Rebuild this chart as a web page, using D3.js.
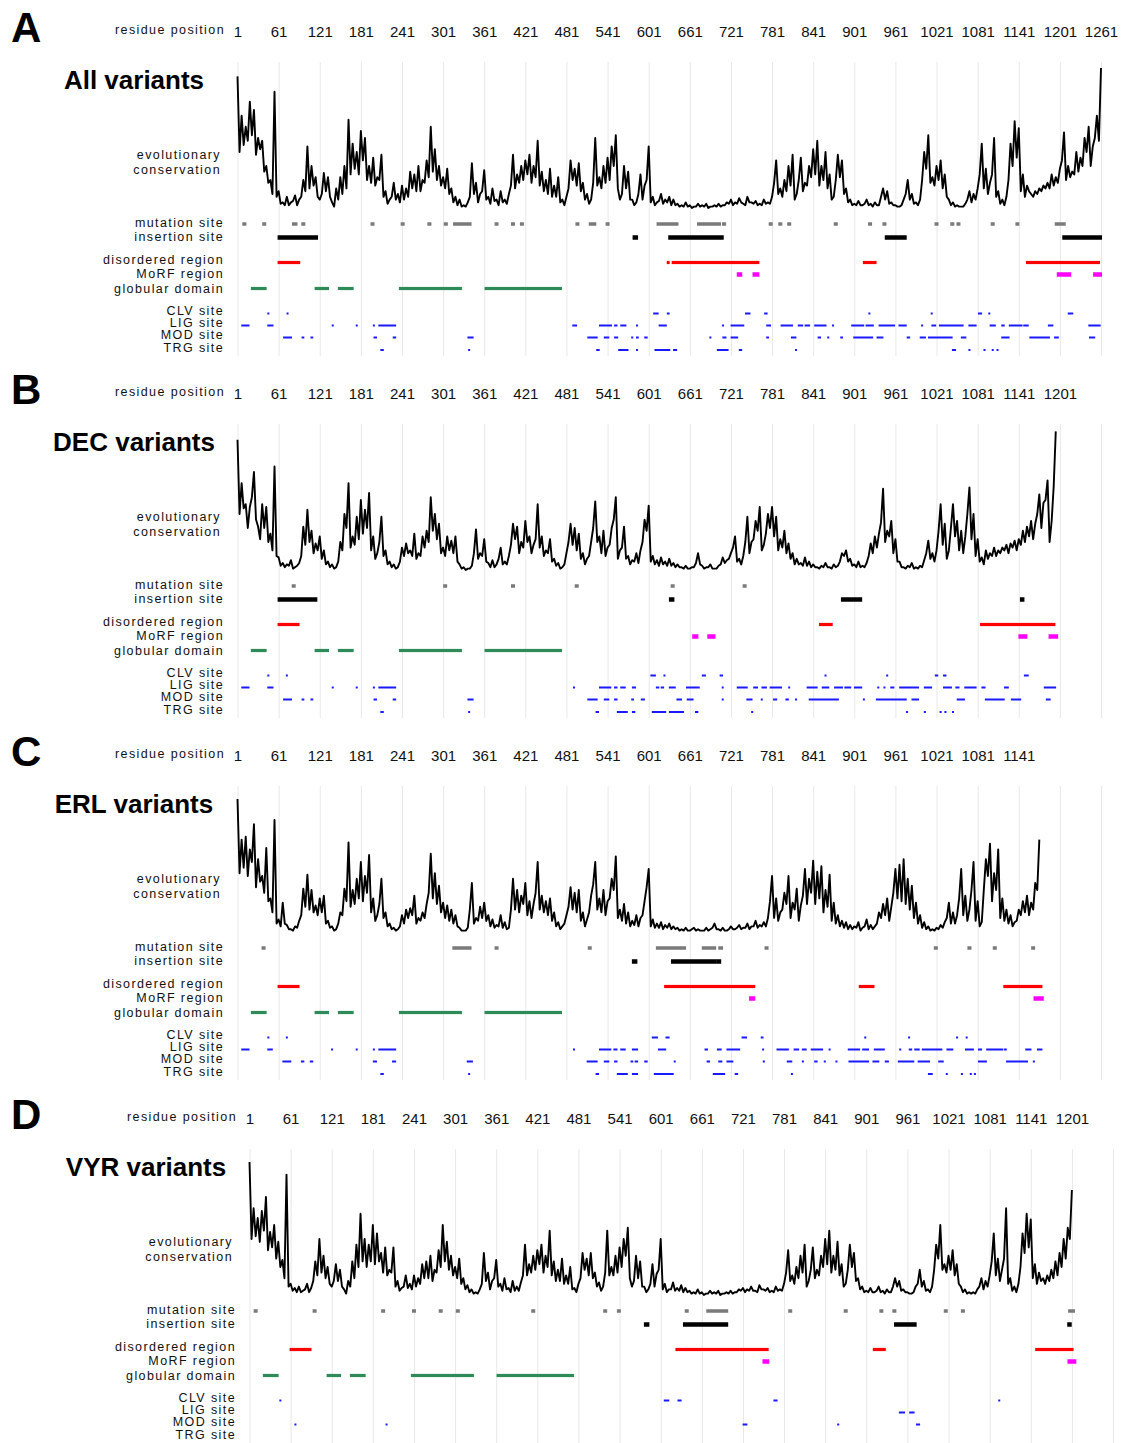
<!DOCTYPE html>
<html>
<head>
<meta charset="utf-8">
<script src="https://cdn.jsdelivr.net/npm/d3@7"></script>
<style>
  body { margin: 0; background: #fff; }
  svg text { font-family: 'Liberation Sans', Arial, sans-serif; }
  .lbl { font-size: 12.5px; letter-spacing: 1.4px; fill: #111; }
</style>
</head>
<body>
<div id="chart"></div>
<script>
// residue ticks shared by every panel (gridlines run to 1261 everywhere)
const residueTicks = [1, 61, 121, 181, 241, 301, 361, 421, 481, 541, 601, 661, 721, 781, 841, 901, 961, 1021, 1081, 1141, 1201, 1261];
const trackNames = ['mutation site', 'insertion site', 'disordered region', 'MoRF region', 'globular domain', 'CLV site', 'LIG site', 'MOD site', 'TRG site'];
const panelLetters = ['A', 'B', 'C', 'D'];
const panelTitles = ['All variants', 'DEC variants', 'ERL variants', 'VYR variants'];
const lastTicks = [1261, 1201, 1141, 1201];

// conservation score (0-100) read every 3 residues starting at residue 1
const consStep = 3;
const consA = [94,40,66,45,58,48,76,52,70,38,50,42,48,26,30,18,20,10,83,8,12,3,4,2,8,2,4,5,9,2,6,8,20,12,44,14,30,16,22,8,6,10,25,12,22,8,4,1,14,6,22,10,30,14,63,24,46,28,40,24,55,34,50,20,30,18,36,16,22,20,38,8,12,3,6,8,18,6,10,4,16,6,14,8,26,14,24,12,30,12,20,18,34,22,58,26,42,20,30,16,22,14,28,10,14,4,8,2,6,1,2,1,4,8,32,10,18,4,10,12,27,6,8,3,14,5,6,2,12,4,6,3,10,16,38,14,24,18,30,20,34,24,38,18,30,22,48,16,26,12,20,10,28,8,16,8,22,4,6,2,8,14,34,20,28,16,32,12,18,6,10,3,6,18,50,16,22,14,30,18,36,20,44,30,52,14,6,10,30,14,26,6,6,2,4,10,24,6,16,20,44,4,8,2,4,5,10,3,6,4,8,2,6,2,3,1,2,1,4,1,2,0,1,1,3,1,2,1,3,0,1,1,2,1,3,1,2,2,4,3,6,2,4,3,7,4,3,2,8,4,4,3,5,2,3,2,6,3,4,3,8,18,34,10,14,8,20,12,30,16,38,6,10,20,36,12,18,16,30,22,42,24,48,16,30,20,40,14,24,6,8,20,38,22,34,10,14,4,6,2,3,2,5,2,2,3,6,2,3,1,4,2,2,8,14,6,12,3,4,2,2,1,1,2,6,10,20,6,10,3,4,2,6,20,40,28,52,18,22,16,30,20,34,14,24,8,6,2,4,1,2,1,1,1,3,6,12,4,10,6,14,24,46,14,28,10,18,24,50,8,12,3,6,2,8,20,46,30,62,36,57,12,24,8,16,12,10,8,12,10,14,12,16,14,18,14,24,16,22,18,28,34,54,20,30,22,26,24,40,26,36,30,50,40,58,30,44,50,66,48,100];
const consB = [93,40,62,44,47,30,45,52,70,36,31,22,47,30,45,20,26,14,74,10,9,3,5,2,4,3,7,1,2,3,5,10,31,18,43,20,28,12,19,14,24,8,14,4,6,2,4,1,2,6,20,14,40,30,62,16,24,18,38,22,50,26,43,30,55,14,24,8,12,20,38,10,14,4,6,2,4,1,2,6,16,10,19,12,14,10,26,8,12,10,24,16,28,20,52,28,40,22,33,12,16,10,24,14,21,12,24,6,4,1,2,0,1,1,3,12,29,8,12,10,22,6,5,2,7,2,4,8,16,4,6,4,10,18,33,22,31,12,20,16,35,20,24,12,18,22,47,16,24,10,14,12,22,6,8,3,5,1,2,4,12,20,33,18,30,14,26,8,12,4,8,10,20,30,49,20,24,12,28,10,16,18,30,36,52,8,14,16,31,8,10,4,7,6,12,5,14,20,36,28,46,6,10,4,7,3,9,4,6,3,8,3,5,2,4,2,2,1,3,1,1,2,2,5,12,4,3,1,2,2,4,1,1,1,3,4,9,5,7,8,12,16,24,6,8,4,10,20,38,12,20,22,35,28,45,14,18,26,40,30,45,24,38,14,22,16,28,12,19,8,12,4,8,4,5,3,9,3,6,2,4,2,2,1,3,2,5,2,2,1,4,2,3,6,12,10,14,6,8,3,4,2,6,2,3,2,5,10,19,12,24,16,26,34,58,20,28,24,35,12,22,6,6,2,2,1,3,2,5,1,2,1,3,2,7,12,21,8,12,6,14,28,47,18,33,8,14,30,47,24,35,14,28,12,24,40,59,22,40,10,22,6,9,4,14,8,12,10,16,10,14,12,16,14,18,12,19,16,21,14,22,18,28,20,31,24,35,22,33,40,54,30,48,50,64,20,35,60,99];
const consC = [95,42,66,46,68,40,59,50,77,32,52,36,40,28,60,22,24,14,80,6,9,4,21,6,5,2,2,1,4,3,8,12,31,18,41,16,30,14,19,12,24,14,26,6,8,3,4,1,2,6,14,12,31,22,64,18,30,20,38,24,50,22,40,28,55,14,24,8,12,20,38,10,14,4,6,2,3,1,2,4,12,6,16,10,17,12,26,6,10,8,14,10,20,28,56,24,42,20,33,14,21,10,19,8,16,6,12,4,3,1,1,1,3,16,35,6,10,8,18,10,21,8,12,4,9,3,5,4,12,3,7,2,3,16,38,16,30,14,26,20,35,12,22,10,20,28,50,16,26,14,22,12,24,8,14,4,7,2,4,6,12,18,32,16,28,14,30,8,14,4,9,14,26,34,50,16,24,14,30,12,22,24,38,30,54,10,16,8,20,6,14,4,8,5,12,4,10,12,22,32,45,4,9,3,6,3,7,2,5,3,6,2,4,2,3,1,2,1,3,1,1,2,3,1,2,1,1,1,3,1,2,3,6,2,2,1,3,1,1,2,4,2,2,3,5,2,3,3,6,2,4,4,8,3,5,4,7,4,10,22,40,10,24,8,14,16,28,20,40,10,21,16,31,8,19,26,45,20,38,28,51,20,43,24,47,14,30,18,41,8,21,6,12,4,8,3,7,2,5,2,4,3,7,1,3,4,9,2,5,2,4,6,14,10,20,12,24,8,18,28,45,24,48,22,52,20,38,16,33,10,21,6,12,3,7,2,4,1,2,1,3,2,5,3,7,10,21,6,14,6,12,24,45,12,26,8,16,30,50,8,22,4,7,30,52,40,63,22,42,30,59,10,24,8,16,6,12,4,7,8,16,12,22,14,26,12,21,16,35,30,66];
const consD = [95,40,62,42,55,38,60,46,70,32,45,34,50,26,38,20,25,12,86,6,8,3,5,2,6,2,3,4,8,2,5,10,24,14,40,16,28,12,20,8,6,10,22,10,18,6,4,1,10,6,24,12,36,20,58,24,40,20,36,24,50,22,44,24,30,16,34,14,18,16,34,6,10,3,5,6,14,5,8,4,14,6,12,8,22,12,24,12,28,10,18,16,32,20,50,24,38,18,28,14,20,12,26,8,12,4,7,2,4,1,2,1,4,8,30,10,16,4,10,12,25,6,8,3,12,4,5,2,10,3,6,3,9,14,36,14,22,16,28,18,32,22,36,16,28,20,46,14,24,10,18,10,26,8,14,8,20,4,5,2,8,12,30,18,26,14,30,12,16,6,9,3,6,16,46,14,20,14,28,16,34,20,40,28,48,12,6,10,28,12,24,6,6,2,4,8,22,6,15,18,40,4,8,2,4,4,9,3,5,3,7,2,5,2,3,1,2,1,4,1,2,0,1,1,3,1,2,1,3,0,1,1,2,1,3,1,2,2,4,3,5,2,4,3,6,3,3,2,7,4,4,3,5,2,3,2,6,3,4,3,8,16,32,10,14,8,20,12,28,16,36,6,10,18,34,12,18,14,28,20,40,22,46,16,28,18,38,14,22,6,8,18,36,20,30,10,12,4,6,2,3,2,5,2,2,3,6,2,3,1,4,2,2,6,12,6,10,3,4,2,2,1,1,2,6,8,18,6,10,3,4,2,6,18,36,26,50,18,22,16,28,18,32,14,22,8,6,2,4,1,2,1,2,1,4,6,12,4,10,6,14,24,44,14,26,10,18,26,62,8,12,3,6,2,8,20,44,30,58,34,54,12,22,8,16,10,12,8,14,10,18,12,24,14,30,20,40,26,48,40,75];

// track segments as [first residue, last residue]
const globular = [[21,43],[114,134],[148,170],[237,328],[362,474]];

const mutA = [[11,11],[40,40],[81,88],[97,97],[198,198],[242,242],[281,281],[305,305],[316,342],[379,379],[403,403],[416,416],[497,497],[514,524],[541,541],[613,644],[672,706],[711,711],[779,779],[793,793],[806,806],[874,874],[924,924],[945,945],[1021,1021],[1044,1044],[1053,1053],[1103,1103],[1139,1139],[1194,1209]];
const insA = [[60,118],[578,585],[630,710],[946,977],[1205,1262]];
const disA = [[60,92],[628,631],[635,762],[914,933],[1152,1259]];
const morfA = [[730,737],[753,762],[1197,1217],[1250,1262]];
const clvA = [[46,46],[74,74],[608,615],[628,631],[742,749],[770,774],[923,923],[1014,1014],[1082,1087],[1098,1098],[1213,1220]];
const ligA = [[7,18],[45,53],[140,140],[175,175],[200,200],[207,232],[490,496],[529,547],[551,555],[560,568],[584,584],[616,627],[709,710],[721,740],[773,779],[794,811],[819,826],[829,836],[843,860],[870,870],[897,915],[918,929],[937,960],[966,977],[1000,1000],[1014,1020],[1025,1060],[1068,1079],[1099,1107],[1116,1120],[1127,1146],[1148,1155],[1184,1191],[1243,1260]];
const modA = [[68,80],[95,98],[108,111],[200,204],[228,232],[337,345],[512,526],[536,543],[551,556],[576,578],[583,586],[595,599],[691,691],[709,714],[721,731],[773,776],[809,816],[848,852],[863,863],[881,884],[900,928],[934,943],[978,982],[997,1005],[1009,1044],[1057,1064],[1116,1127],[1157,1186],[1193,1199],[1244,1252]];
const trgA = [[210,214],[339,339],[525,529],[557,571],[584,584],[610,632],[637,642],[701,717],[733,737],[816,816],[1044,1049],[1069,1069],[1091,1091],[1103,1103],[1110,1110]];

const mutB = [[83,83],[304,304],[403,403],[496,496],[636,636],[741,741]];
const insB = [[60,117],[631,638],[882,912],[1144,1148]];
const disB = [[60,91],[850,869],[1085,1194]];
const morfB = [[665,673],[687,698],[1141,1153],[1185,1198]];
const clvB = [[46,46],[73,73],[604,611],[624,624],[679,684],[705,709],[859,859],[949,949],[1019,1023],[1031,1035],[1149,1155]];
const ligB = [[7,18],[45,53],[140,140],[175,175],[200,200],[207,232],[492,492],[529,546],[551,555],[560,567],[577,582],[612,616],[619,623],[631,640],[656,675],[709,709],[730,745],[754,760],[766,773],[778,795],[806,806],[832,847],[854,864],[872,884],[887,896],[901,912],[936,936],[945,945],[954,959],[967,995],[1003,1014],[1031,1043],[1049,1054],[1062,1079],[1087,1092],[1120,1126],[1178,1195]];
const modB = [[68,80],[95,98],[108,111],[200,204],[228,232],[337,345],[512,526],[536,543],[551,555],[576,579],[590,595],[642,649],[657,666],[709,709],[744,752],[766,766],[783,788],[801,805],[816,816],[835,878],[915,915],[933,977],[985,995],[1051,1062],[1092,1120],[1130,1144],[1181,1187]];
const trgB = [[210,214],[339,339],[524,528],[555,570],[577,581],[606,626],[631,652],[669,673],[752,752],[978,978],[1004,1004],[1027,1027],[1034,1034],[1045,1045]];

const mutC = [[39,39],[315,342],[379,379],[515,515],[612,655],[679,699],[703,709],[773,773],[1020,1020],[1069,1069],[1106,1106],[1162,1162]];
const insC = [[577,584],[634,700],[702,705]];
const disC = [[60,91],[624,756],[908,930],[1119,1175]];
const morfC = [[748,756],[1163,1177]];
const clvC = [[46,46],[73,73],[606,614],[626,631],[737,744],[765,768],[917,917],[981,981],[1051,1051],[1065,1065]];
const ligC = [[7,18],[45,52],[139,139],[175,175],[200,200],[207,232],[492,492],[529,546],[550,555],[560,567],[577,585],[615,626],[683,687],[701,707],[715,734],[768,768],[788,805],[813,820],[825,831],[838,855],[865,865],[892,909],[913,922],[930,945],[968,968],[981,985],[989,996],[1000,1029],[1036,1045],[1063,1075],[1082,1087],[1094,1118],[1120,1123],[1151,1159],[1168,1175]];
const modC = [[67,79],[94,98],[107,111],[199,204],[227,232],[336,344],[511,526],[536,543],[551,555],[575,578],[581,585],[595,599],[639,639],[686,690],[703,708],[715,724],[768,770],[803,810],[826,826],[843,847],[858,858],[875,875],[893,922],[928,937],[946,951],[965,988],[994,1011],[1024,1031],[1082,1094],[1123,1154],[1163,1163]];
const trgC = [[210,214],[339,339],[524,528],[555,570],[577,585],[609,637],[695,712],[727,731],[810,810],[1009,1015],[1036,1036],[1058,1058],[1071,1071],[1077,1077]];

const mutD = [[10,10],[96,96],[196,196],[241,241],[280,280],[305,305],[415,415],[520,520],[540,540],[639,639],[668,699],[790,790],[871,871],[923,923],[942,942],[1017,1017],[1042,1042],[1196,1205]];
const insD = [[577,584],[634,699],[942,974],[1196,1199]];
const disD = [[60,91],[623,758],[911,929],[1148,1203]];
const morfD = [[750,759],[1195,1207]];
const clvD = [[46,46],[606,613],[626,631],[766,771],[1095,1095]];
const ligD = [[949,957],[964,971]];
const modD = [[68,68],[201,201],[721,727],[860,860],[974,979]];
const trgD = [];

const width = 1121;
const height = 1443;

const svg = d3.select('#chart')
    .append('svg')
    .attr('width', width)
    .attr('height', height);

// table the drawing loop needs
const panels = [
    { cons: consA, tracks: [mutA, insA, disA, morfA, globular, clvA, ligA, modA, trgA], dy: 0, dx: 0 },
    { cons: consB, tracks: [mutB, insB, disB, morfB, globular, clvB, ligB, modB, trgB], dy: 362, dx: 0 },
    { cons: consC, tracks: [mutC, insC, disC, morfC, globular, clvC, ligC, modC, trgC], dy: 724, dx: 0 },
    { cons: consD, tracks: [mutD, insD, disD, morfD, globular, clvD, ligD, modD, trgD], dy: 1087, dx: 12 }
];

// row style: y of mark centre, mark height, min width, colour, label baseline
const rowStyle = [
    { y: 224, h: 3.5, minW: 4, color: '#7a7a7a', ly: 227 },
    { y: 237.5, h: 4.5, minW: 4.5, color: '#000000', ly: 241 },
    { y: 262.5, h: 3.2, minW: 3, color: '#ff0000', ly: 263.5 },
    { y: 274.5, h: 4.5, minW: 4, color: '#ff00ff', ly: 278 },
    { y: 288.5, h: 3.2, minW: 3, color: '#2e8b57', ly: 293 },
    { y: 313.5, h: 2, minW: 2, color: '#1a1aff', ly: 315 },
    { y: 325.5, h: 2, minW: 2, color: '#1a1aff', ly: 327 },
    { y: 337.5, h: 2, minW: 2, color: '#1a1aff', ly: 339 },
    { y: 350, h: 2, minW: 2, color: '#1a1aff', ly: 352 }
];

panels.forEach((p, k) => {
    // big panel letter stays at the left edge
    svg.append('text')
        .attr('x', 11)
        .attr('y', p.dy + 42)
        .attr('font-size', 42)
        .attr('font-weight', 'bold')
        .attr('fill', '#000')
        .text(panelLetters[k]);

    const g = svg.append('g')
        .attr('transform', `translate(${p.dx}, ${p.dy})`);

    const xScale = d3.scaleLinear()
        .domain([1, 1261])
        .range([237.5, 1101]);

    const yScale = d3.scaleLinear()
        .domain([0, 100])
        .range([208, 68]);

    // light vertical gridlines
    g.append('g')
        .attr('transform', 'translate(0, 62)')
        .call(d3.axisBottom(xScale).tickValues(residueTicks).tickSize(294).tickFormat(''))
        .call(a => a.select('.domain').remove())
        .selectAll('line')
            .attr('stroke', '#e8e8e8')
            .attr('stroke-width', 1);

    // residue position tick labels
    g.append('g')
        .attr('transform', 'translate(0, 37)')
        .call(d3.axisTop(xScale)
            .tickValues(residueTicks.filter(t => t <= lastTicks[k]))
            .tickFormat(d3.format('d'))
            .tickSize(0)
            .tickPadding(0))
        .call(a => a.select('.domain').remove())
        .selectAll('text')
            .attr('font-size', 15)
            .attr('font-family', "'Liberation Sans', Arial, sans-serif")
            .attr('fill', '#111');

    g.append('text')
        .attr('class', 'lbl')
        .attr('x', 225)
        .attr('y', 34)
        .attr('text-anchor', 'end')
        .text('residue position');

    // panel title
    g.append('text')
        .attr('x', 134)
        .attr('y', 89)
        .attr('text-anchor', 'middle')
        .attr('font-size', 26)
        .attr('font-weight', 'bold')
        .attr('fill', '#000')
        .text(panelTitles[k]);

    g.append('text')
        .attr('class', 'lbl')
        .attr('x', 221)
        .attr('y', 159)
        .attr('text-anchor', 'end')
        .text('evolutionary');

    g.append('text')
        .attr('class', 'lbl')
        .attr('x', 221)
        .attr('y', 174)
        .attr('text-anchor', 'end')
        .text('conservation');

    // conservation profile
    const consLine = d3.line()
        .x((d, i) => xScale(1 + i * consStep))
        .y(d => yScale(d));

    g.append('path')
        .datum(p.cons)
        .attr('fill', 'none')
        .attr('stroke', '#000')
        .attr('stroke-width', 1.9)
        .attr('stroke-linejoin', 'round')
        .attr('d', consLine);

    // feature tracks
    p.tracks.forEach((segs, r) => {
        const st = rowStyle[r];

        g.append('text')
            .attr('class', 'lbl')
            .attr('x', 224)
            .attr('y', st.ly)
            .attr('text-anchor', 'end')
            .text(trackNames[r]);

        g.append('g')
            .selectAll('rect')
            .data(segs)
            .enter()
            .append('rect')
                .attr('x', d => {
                    const w = xScale(d[1] + 0.5) - xScale(d[0] - 0.5);
                    const c = (xScale(d[0] - 0.5) + xScale(d[1] + 0.5)) / 2;
                    return c - Math.max(w, st.minW) / 2;
                })
                .attr('y', st.y - st.h / 2)
                .attr('width', d => Math.max(xScale(d[1] + 0.5) - xScale(d[0] - 0.5), st.minW))
                .attr('height', st.h)
                .attr('fill', st.color);
    });
});
</script>
</body>
</html>
